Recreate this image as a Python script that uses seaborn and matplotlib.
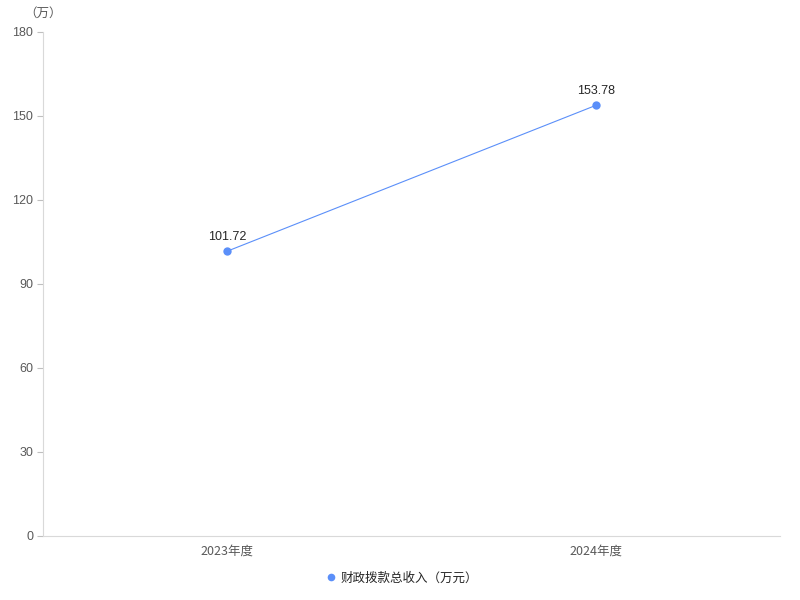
import matplotlib
matplotlib.use("Agg")
import matplotlib.pyplot as plt
import seaborn as sns
import pandas as pd

years = ["2023年度", "2024年度"]
values = [101.72, 153.78]
series_name = "财政拨款总收入（万元）"
y_ticks = [0, 30, 60, 90, 120, 150, 180]

sns.set_style("white")
plt.rcParams['font.family'] = ['Noto Sans CJK SC', 'DejaVu Sans']

color = "#5B8FF9"
df = pd.DataFrame({"year": years, "value": values})

fig = plt.figure(figsize=(8, 6), dpi=100)
ax = fig.add_axes([0.05375, 0.10667, 0.92125, 0.84])

sns.lineplot(data=df, x="year", y="value", ax=ax, color=color, linewidth=0.8,
             marker="o", markersize=6, markeredgewidth=0, sort=False,
             label=series_name)

for i, v in enumerate(values):
    ax.annotate(f"{v:.2f}", (i, v), xytext=(0, 6), textcoords="offset points",
                ha="center", va="bottom", fontsize=9, color="#262626",
                family=['Liberation Sans', 'DejaVu Sans'])

ax.set_xlim(-0.5, 1.5)
ax.set_ylim(0, 180)
ax.set_yticks(y_ticks)
ax.set_xlabel("")
ax.set_ylabel("")

for side in ["top", "right"]:
    ax.spines[side].set_visible(False)
for side in ["left", "bottom"]:
    ax.spines[side].set_color("#d9d9d9")
    ax.spines[side].set_linewidth(0.8)

ax.tick_params(axis="y", length=4, width=0.8, color="#bfbfbf", labelsize=9,
               labelcolor="#595959", pad=3, left=True)
ax.tick_params(axis="x", length=0, labelsize=9, labelcolor="#595959", pad=6)
for lbl in ax.get_yticklabels():
    lbl.set_family(['Liberation Sans', 'DejaVu Sans'])

ax.text(0.0, 1.025, "（万）", transform=ax.transAxes, ha="center", va="bottom",
        fontsize=9, color="#595959")

leg = ax.legend(loc="upper center", bbox_to_anchor=(0.488, -0.048), frameon=False,
                fontsize=9, handlelength=0.7, handletextpad=0.4)
for h in leg.legend_handles:
    h.set_linestyle("")
    h.set_markersize(5.5)
for t in leg.get_texts():
    t.set_color("#262626")

fig.savefig("out.png", dpi=100)
